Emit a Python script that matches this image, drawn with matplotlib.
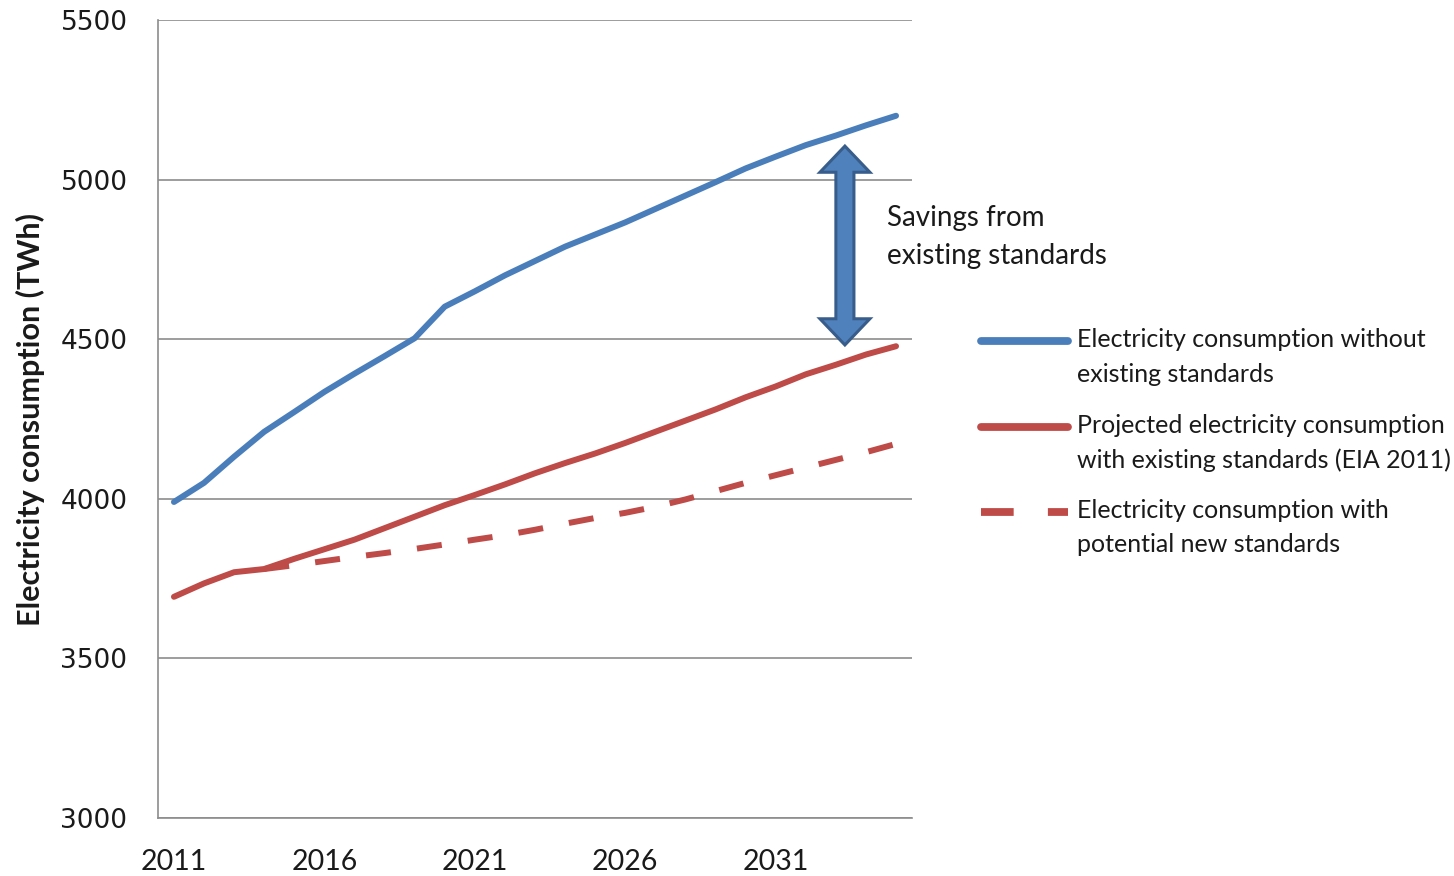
import matplotlib
matplotlib.use("Agg")

import matplotlib.pyplot as plt
from matplotlib.patches import Polygon
from matplotlib.lines import Line2D
import numpy as np

# ------------------------------------------------------------------ data --
years = list(range(2011, 2036))
without_std = [3990, 4050, 4132, 4210, 4272, 4335, 4392, 4447, 4503, 4602,
               4650, 4700, 4745, 4790, 4828, 4866, 4908, 4950, 4992, 5035,
               5072, 5108, 5138, 5170, 5200]
with_existing = [3693, 3735, 3770, 3780, 3812, 3842, 3872, 3908, 3944, 3980,
                 4012, 4045, 4080, 4112, 4142, 4175, 4210, 4245, 4280, 4318,
                 4352, 4390, 4420, 4452, 4478]
with_new = [np.nan, np.nan, np.nan, 3780, 3792, 3805, 3818, 3830, 3843, 3857,
            3872, 3886, 3903, 3922, 3940, 3956, 3975, 3998, 4024, 4050,
            4074, 4098, 4122, 4146, 4172]
tick_years = [2011, 2016, 2021, 2026, 2031]
y_ticks = [3000, 3500, 4000, 4500, 5000, 5500]

labels = ["Electricity consumption without\nexisting standards",
          "Projected electricity consumption\nwith existing standards (EIA 2011)",
          "Electricity consumption with\npotential new standards"]
note = "Savings from\nexisting standards"

# --------------------------------------------------------------- palette --
BLUE = "#4A7EBB"
RED = "#BE4B48"
ARROW_FC = "#4F81BD"
ARROW_EC = "#385D8A"
GRID = "#8c8c8c"
TXT = "#1a1a1a"
DASH = (4.2, 4.4)

W, H, DPI = 1454, 876, 100
fig = plt.figure(figsize=(W / DPI, H / DPI), dpi=DPI)
ax = fig.add_axes([158 / W, 1 - 818 / H, (912 - 158) / W, (818 - 20) / H])

x = np.arange(len(years))
ax.plot(x, with_new, color=RED, lw=4.3, dashes=DASH,
        dash_capstyle="butt", zorder=3)
ax.plot(x, with_existing, color=RED, lw=4.3, solid_capstyle="round",
        solid_joinstyle="round", zorder=4)
ax.plot(x, without_std, color=BLUE, lw=4.3, solid_capstyle="round",
        solid_joinstyle="round", zorder=4)

ax.set_xlim(-0.53, len(years) - 0.47)
ax.set_ylim(3000, 5500)
ax.set_yticks(y_ticks)
ax.set_yticklabels([str(v) for v in y_ticks])
ax.set_xticks([years.index(y) for y in tick_years])
ax.set_xticklabels([str(y) for y in tick_years])

ax.grid(axis="y", color=GRID, lw=1.2)
ax.set_axisbelow(True)
for s in ["top", "right"]:
    ax.spines[s].set_visible(False)
for s in ["left", "bottom"]:
    ax.spines[s].set_color(GRID)
    ax.spines[s].set_linewidth(1.2)

ax.tick_params(axis="y", length=0, pad=22, labelsize=19, labelcolor=TXT)
ax.tick_params(axis="x", length=0, pad=22, labelcolor=TXT)
for t in ax.get_xticklabels():
    t.set_family("Lato")
    t.set_fontsize(20.5)
for t in ax.get_yticklabels():
    t.set_family("DejaVu Sans")

ax.set_ylabel("Electricity consumption (TWh)", family="Lato", weight="bold",
              fontsize=22, color=TXT)
ax.yaxis.set_label_coords(-0.150, 0.5)

# double headed block arrow between the top two curves
cx, y0, y1 = 22.3, 4482, 5105
sw, hw, hl = 0.30, 0.83, 82
arrow = Polygon([(cx, y1), (cx + hw, y1 - hl), (cx + sw, y1 - hl),
                 (cx + sw, y0 + hl), (cx + hw, y0 + hl), (cx, y0),
                 (cx - hw, y0 + hl), (cx - sw, y0 + hl), (cx - sw, y1 - hl),
                 (cx - hw, y1 - hl)], closed=True, facecolor=ARROW_FC,
                edgecolor=ARROW_EC, lw=2.2, zorder=6, clip_on=False)
ax.add_patch(arrow)


def fig_lines(txt, x0, ys, size):
    for line, yy in zip(txt.split("\n"), ys):
        fig.text(x0 / W, 1 - yy / H, line, family="Lato", fontsize=size,
                 color=TXT, ha="left", va="center")


fig_lines(note, 887, [218, 256], 20)

# legend, drawn by hand so the key sits on the first text line
keys = [dict(color=BLUE), dict(color=RED), dict(color=RED, dashes=DASH)]
rows = [341, 427, 512]
for lab, kw, yy in zip(labels, keys, rows):
    style = dict(lw=5.6, solid_capstyle="round", dash_capstyle="butt")
    style.update(kw)
    fig.add_artist(Line2D([981 / W, 1068 / W], [1 - yy / H, 1 - yy / H],
                          transform=fig.transFigure, **style))
    fig_lines(lab, 1077, [yy - 1, yy + 33], 18)

fig.savefig("out.png", dpi=DPI, facecolor="white")
